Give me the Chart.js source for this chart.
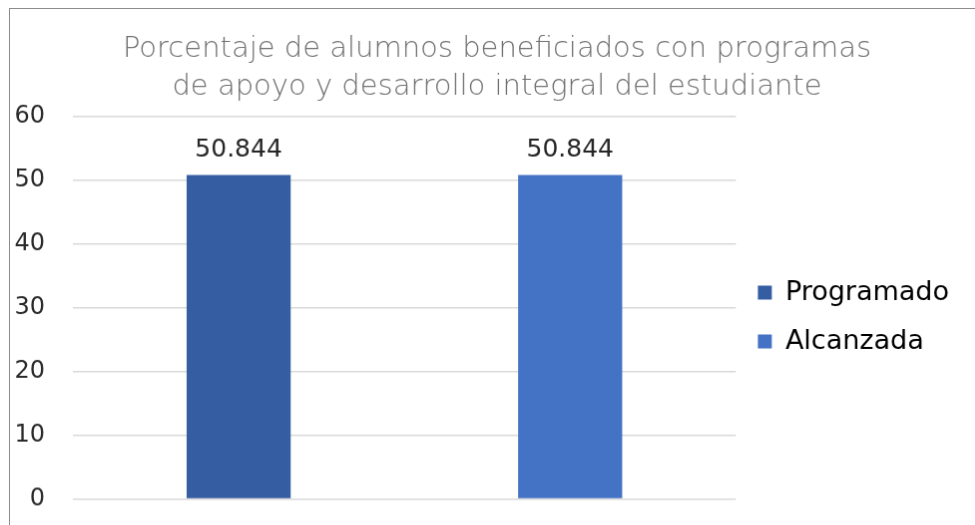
<!DOCTYPE html>
<html>
<head>
<meta charset="utf-8">
<script src="https://cdn.jsdelivr.net/npm/chart.js@4/dist/chart.umd.min.js"></script>
<style>
  html, body { margin: 0; padding: 0; background: #fff; overflow: hidden; width: 975px; height: 525px; }
  #chart { position: absolute; left: 9px; top: 8px; border: 1px solid #8c8c8c; }
</style>
</head>
<body>
<canvas id="chart" width="976" height="618"></canvas>
<script>
// Data
const categories = ['Programado', 'Alcanzada'];
const values = [50.844, 50.844];
const titleLines = ['Porcentaje de alumnos beneficiados con programas', 'de apoyo y desarrollo integral del estudiante'];
const yMin = 0;
const yMax = 60;
const yStep = 10;

// Colors
const barColors = ['#355DA1', '#4472C4'];
const fontFamily = '"DejaVu Sans", sans-serif';

// Value labels above bars
const valueLabels = {
  id: 'valueLabels',
  afterDatasetsDraw(chart) {
    const ctx = chart.ctx;
    const meta = chart.getDatasetMeta(0);
    ctx.save();
    ctx.font = '25px ' + fontFamily;
    ctx.fillStyle = '#262626';
    ctx.textAlign = 'center';
    ctx.textBaseline = 'alphabetic';
    meta.data.forEach((bar, i) => {
      ctx.fillText(String(chart.data.datasets[0].data[i]), bar.x, bar.y - 19);
    });
    ctx.restore();
  }
};

const ctx = document.getElementById('chart').getContext('2d');
new Chart(ctx, {
  type: 'bar',
  data: {
    labels: categories,
    datasets: [{
      data: values,
      backgroundColor: barColors,
      borderWidth: 0,
      categoryPercentage: 1,
      barPercentage: 0.314
    }]
  },
  options: {
    responsive: false,
    animation: false,
    layout: { padding: 0 },
    plugins: {
      title: {
        display: true,
        text: titleLines,
        color: '#707070',
        font: { family: fontFamily, size: 29, weight: 200, lineHeight: 1.31 },
        padding: { top: 21, bottom: 11 }
      },
      legend: {
        position: 'right',
        maxWidth: 300,
        labels: {
          color: '#262626',
          font: { family: fontFamily, size: 27 },
          boxWidth: 14,
          boxHeight: 14,
          padding: 22,
          generateLabels: chart => chart.data.labels.map((label, i) => ({
            text: label,
            fillStyle: barColors[i],
            strokeStyle: barColors[i],
            lineWidth: 0,
            hidden: false,
            index: i
          }))
        }
      },
      tooltip: { enabled: false }
    },
    scales: {
      x: {
        grid: { display: false },
        border: { display: false },
        ticks: { display: false },
        title: { display: true, text: '', padding: { top: 0, bottom: 104 } }
      },
      y: {
        min: yMin,
        max: yMax,
        afterFit(scale) { scale.width = 63; },
        ticks: {
          stepSize: yStep,
          padding: 28,
          color: '#2b2b2b',
          font: { family: fontFamily, size: 24 }
        },
        grid: { color: '#d9d9d9', lineWidth: 1.5, drawTicks: false },
        border: { display: false }
      },
      // empty spacer on the far right, outside the legend
      spacer: {
        type: 'linear',
        position: 'right',
        weight: 2000,
        afterFit(scale) { scale.width = 25; },
        grid: { display: false },
        border: { display: false },
        ticks: { display: false }
      }
    }
  },
  plugins: [valueLabels]
});
</script>
</body>
</html>
